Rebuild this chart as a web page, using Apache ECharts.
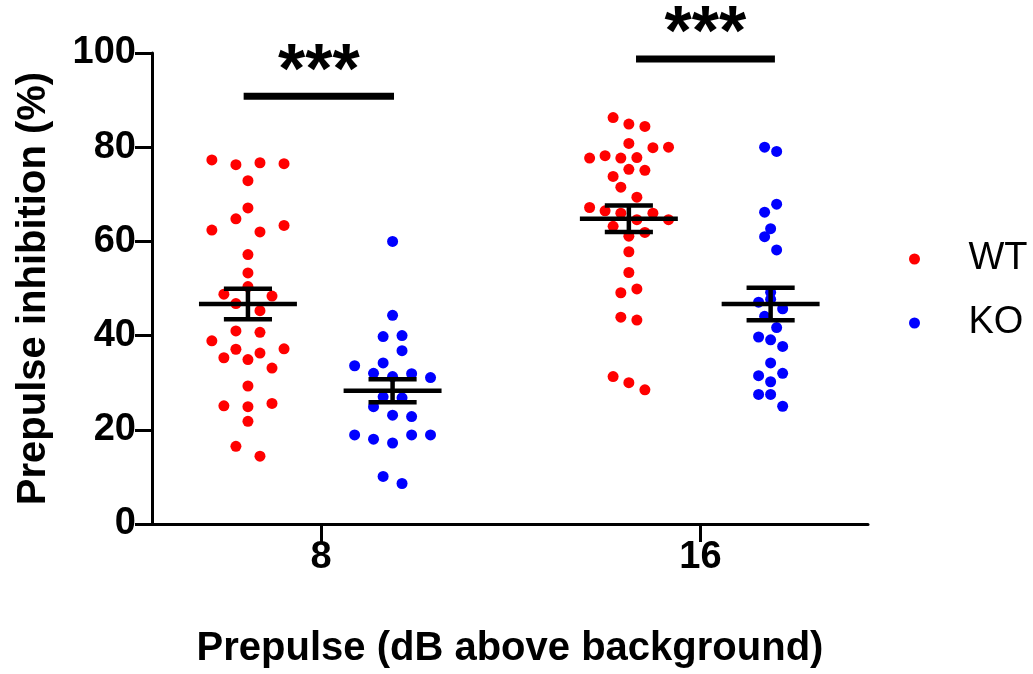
<!DOCTYPE html>
<html lang="en">
<head>
    <meta charset="utf-8">
    <script src="https://cdn.jsdelivr.net/npm/echarts@6/dist/echarts.min.js"></script>
    <style>
        html, body { margin: 0; padding: 0; background: #fff; }
        #chart { width: 1033px; height: 674px; }
    </style>
</head>
<body>
<div id="chart"></div>
<script>
// group tick labels and where they sit on the x scale
const tickLabels = ['8', '16']
const tickPos = [1.18, 3.83]
// group centres: WT-8, KO-8, WT-16, KO-16
const groupCenters = [0.67, 1.68, 3.33, 4.32]

// values, with the beeswarm offset of each dot
const wt8Values = [77.3, 76.3, 76.7, 76.5, 72.9, 67.1, 64.8, 62.4, 62.0, 63.4, 57.2, 53.3, 50.4, 48.8, 48.4, 46.8, 45.3,
    41.0, 40.7, 38.9, 37.1, 37.2, 35.3, 34.9, 36.3, 33.1, 29.3, 25.1, 24.9, 25.6, 21.8, 16.5, 14.4]
const wt8Offsets = [-0.252, -0.084, 0.084, 0.252, 0, 0, -0.084, -0.252, 0.084, 0.252, 0, 0, 0, -0.168, 0.168, -0.084, 0.084,
    -0.084, 0.084, -0.252, -0.084, 0.252, -0.168, 0, 0.084, 0.168, 0, -0.168, 0, 0.168, 0, -0.084, 0.084]

const ko8Values = [60.0, 44.3, 39.8, 40.0, 36.8, 33.6, 34.2, 32.0, 31.3, 31.9, 31.1, 27.0, 26.8, 24.9, 23.1, 22.8,
    18.9, 18.0, 17.2, 18.9, 18.9, 10.1, 8.6]
const ko8Offsets = [0, 0, -0.066, 0.066, 0.066, -0.265, -0.066, -0.133, 0, 0.133, 0.265, -0.066, 0.066, -0.133, 0, 0.133,
    -0.265, -0.133, 0, 0.133, 0.265, -0.066, 0.066]

const wt16Values = [86.3, 84.9, 84.4, 80.8, 79.9, 80.0, 77.7, 78.2, 77.7, 77.8, 75.3, 75.1, 73.8, 71.5, 69.4, 67.2, 66.5,
    66.0, 66.0, 64.6, 64.6, 63.2, 61.1, 61.9, 57.8, 53.4, 49.1, 49.9, 43.9, 43.3, 31.3, 30.0, 28.5]
const wt16Offsets = [-0.11, 0, 0.112, 0, 0.168, 0.277, -0.274, -0.166, -0.056, 0.056, 0, 0.112, -0.11, -0.056, 0.056, -0.274, -0.166,
    -0.056, 0.168, 0.056, 0.277, -0.11, 0, 0.112, 0, 0, -0.056, 0.056, -0.056, 0.056, -0.11, 0, 0.112]

const ko16Values = [80.0, 79.1, 67.9, 66.2, 62.7, 61.0, 58.2, 49.2, 47.1, 47.7, 45.7, 44.1, 41.7, 39.7, 39.1, 37.7,
    34.2, 31.5, 32.0, 30.2, 27.5, 27.5, 25.0]
const ko16Offsets = [-0.042, 0.042, 0.042, -0.042, 0, -0.042, 0.042, 0, -0.084, 0, 0.084, -0.042, 0.042, -0.084, 0, 0.084,
    0, -0.084, 0.084, 0, -0.084, 0, 0.084]

// mean and SEM per group (same order as groupCenters)
const groupMeans = [46.7, 28.3, 64.8, 46.7]
const groupSem = [3.25, 2.45, 2.8, 3.45]

// significance bars
const sigFrom = [0.64, 3.38]
const sigTo = [1.69, 4.35]
const sigLevel = [90.8, 98.7]
const sigText = ['***', '***']

const FONT = '"Liberation Sans", Arial, sans-serif'

function dots(center, values, offsets) {
    return values.map((v, i) => [center + offsets[i], v])
}

let chart = echarts.init(document.querySelector('#chart'))
chart.setOption({
    animation: false,
    grid: {left: 152, right: 165, top: 53, bottom: 144},
    legend: {
        data: ['WT', 'KO'],
        orient: 'vertical',
        left: 904,
        top: 235,
        itemWidth: 98,
        itemHeight: 11,
        itemGap: 26,
        textStyle: {fontFamily: FONT, fontSize: 38, color: '#000'}
    },
    xAxis: {
        type: 'value',
        min: 0,
        max: 5,
        name: 'Prepulse (dB above background)',
        nameLocation: 'middle',
        nameGap: 105,
        nameTextStyle: {fontFamily: FONT, fontSize: 40, fontWeight: 'bold', color: '#000'},
        axisLine: {onZero: false, lineStyle: {color: '#000', width: 3}},
        axisTick: {show: true, length: 18, customValues: tickPos, lineStyle: {color: '#000', width: 3}},
        axisLabel: {
            customValues: tickPos,
            margin: 15,
            fontFamily: FONT, fontSize: 38, fontWeight: 'bold', color: '#000',
            formatter: v => tickLabels[tickPos.indexOf(v)] ?? ''
        },
        splitLine: {show: false}
    },
    yAxis: {
        type: 'value',
        min: 0,
        max: 100,
        interval: 20,
        name: 'Prepulse inhibition (%)',
        nameLocation: 'middle',
        nameGap: 98,
        nameTextStyle: {fontFamily: FONT, fontSize: 40, fontWeight: 'bold', color: '#000'},
        axisLine: {show: true, lineStyle: {color: '#000', width: 3}},
        axisTick: {show: true, length: 17, lineStyle: {color: '#000', width: 3}},
        axisLabel: {margin: 16, fontFamily: FONT, fontSize: 38, fontWeight: 'bold', color: '#000'},
        splitLine: {show: false}
    },
    series: [
        {
            name: 'WT', type: 'scatter', symbolSize: 11,
            itemStyle: {color: '#ff0000', opacity: 1},
            data: dots(groupCenters[0], wt8Values, wt8Offsets).concat(dots(groupCenters[2], wt16Values, wt16Offsets))
        },
        {
            name: 'KO', type: 'scatter', symbolSize: 11,
            itemStyle: {color: '#0000ff', opacity: 1},
            data: dots(groupCenters[1], ko8Values, ko8Offsets).concat(dots(groupCenters[3], ko16Values, ko16Offsets))
        },
        {
            type: 'custom',
            z: 5,
            data: groupCenters.map((c, i) => [c, groupMeans[i], groupSem[i]]),
            renderItem: function (params, api) {
                let c = api.value(0), m = api.value(1), s = api.value(2)
                let st = {stroke: '#000', lineWidth: 4.5}
                let seg = (x1, y1, x2, y2) => {
                    let p1 = api.coord([x1, y1]), p2 = api.coord([x2, y2])
                    return {type: 'line', shape: {x1: p1[0], y1: p1[1], x2: p2[0], y2: p2[1]}, style: st}
                }
                return {
                    type: 'group',
                    children: [
                        seg(c - 0.342, m, c + 0.342, m),
                        seg(c, m - s, c, m + s),
                        seg(c - 0.168, m + s, c + 0.168, m + s),
                        seg(c - 0.168, m - s, c + 0.168, m - s)
                    ]
                }
            }
        },
        {
            type: 'custom',
            z: 5,
            clip: false,
            data: sigFrom.map((f, i) => [f, sigTo[i], sigLevel[i], sigText[i]]),
            renderItem: function (params, api) {
                let a = api.coord([api.value(0), api.value(2)])
                let b = api.coord([api.value(1), api.value(2)])
                return {
                    type: 'group',
                    children: [
                        {type: 'line', shape: {x1: a[0], y1: a[1], x2: b[0], y2: b[1]},
                         style: {stroke: '#000', lineWidth: 7}},
                        {type: 'text', x: (a[0] + b[0]) / 2, y: a[1] + 12,
                         style: {text: sigText[params.dataIndex], fill: '#000', font: 'bold 70px ' + FONT,
                                 align: 'center', verticalAlign: 'bottom'}}
                    ]
                }
            }
        }
    ]
})
</script>
</body>
</html>
